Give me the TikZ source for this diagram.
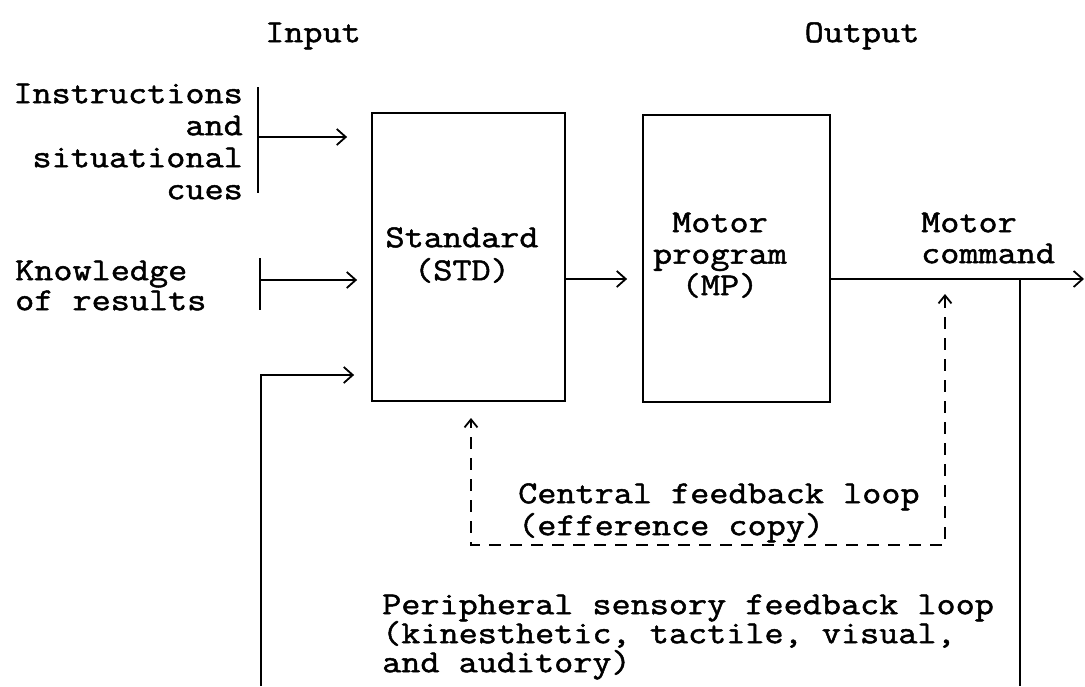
\documentclass[tikz,border=0pt]{standalone}
\usepackage{fontspec}
\newfontfamily\tw[FakeStretch=1.16, FakeBold=1.5]{Latin Modern Mono}
\usetikzlibrary{arrows.meta}
\newcommand\sr{\rule[-3pt]{0pt}{28pt}}
\newcommand\tf[1]{\tw\fontsize{32}{#1}\selectfont}
\begin{document}
\lineskiplimit=-100pt
\begin{tikzpicture}[x=1pt,y=-1pt,
  txt/.style={inner sep=0pt},
  box/.style={draw, line width=1.8pt, inner sep=0pt},
  ln/.style={line width=1.8pt},
  arr/.style={ln, -{Straight Barb[length=9pt,width=16pt,line width=1.8pt]}},
  darr/.style={line width=2pt, dash pattern=on 12pt off 9pt,
    {Straight Barb[length=8pt,width=13pt,line width=1.8pt]}-{Straight Barb[length=8pt,width=13pt,line width=1.8pt]}}
]
\useasboundingbox (0,0) rectangle (1085,686);
\fill[white] (0,0) rectangle (1085,686);

% boxes
\node[box, minimum width=193pt, minimum height=288pt] (std) at (468.5,257) {};
\node[box, minimum width=187pt, minimum height=287pt] (mp) at (736.5,258.5) {};

% texts
\node[txt, font=\tf{32}, anchor=north] (input) at (313,17) {\sr Input};
\node[txt, font=\tf{32}, anchor=north] (output) at (862,17) {\sr Output};
\node[txt, font=\tf{32}, anchor=north east, align=right] (instr) at (243,78)
  {\sr Instructions\\and\\situational\\cues};
\node[txt, font=\tf{30}, anchor=north west, align=left] (kr) at (15,255)
  {\sr Knowledge\\of results};
\node[txt, font=\tf{33}, anchor=north, align=center] (stdtext) at (462,222)
  {\sr Standard\\(STD)};
\node[txt, font=\tf{31.5}, anchor=north, align=center] (mptext) at (720,207)
  {\sr Motor\\program\\(MP)};
\node[txt, font=\tf{31}, anchor=north west, align=left] (cmd) at (921,207)
  {\sr Motor\\command};
\node[txt, font=\tf{32}, anchor=north west, align=left] (central) at (518,478)
  {\sr Central feedback loop\\(efference copy)};
\node[txt, font=\tf{29}, anchor=north west, align=left] (periph) at (382,589)
  {\sr Peripheral sensory feedback loop\\(kinesthetic, tactile, visual,\\and auditory)};

% coordinates
\coordinate (b1t) at (258,87);
\coordinate (b1b) at (258,193);
\coordinate (b1m) at (258,137);
\coordinate (b2t) at (260,258);
\coordinate (b2b) at (260,310);
\coordinate (b2m) at (260,280);
\coordinate (pb) at (261,686);
\coordinate (p1) at (261,375);
\coordinate (row) at (0,279);
\coordinate (outend) at (1084,279);
\coordinate (rv) at (1020,279);
\coordinate (rvb) at (1020,686);
\coordinate (d1) at (945,294);
\coordinate (dc1) at (945,545);
\coordinate (dc2) at (471,545);
\coordinate (d4) at (471,418);

% input connectors
\draw[ln] (b1t) -- (b1b);
\draw[arr] (b1m) -- ([xshift=-24pt]std.west |- b1m);
\draw[ln] (b2t) -- (b2b);
\draw[arr] (b2m) -- ([xshift=-14pt]std.west |- b2m);
\draw[arr] (pb) -- (p1) -- ([xshift=-17pt]std.west |- p1);

% main flow
\draw[arr] (std.east |- row) -- ([xshift=-15pt]mp.west |- row);
\draw[arr] (mp.east |- row) -- (outend);
\draw[ln] (rv) -- (rvb);

% central feedback loop
\draw[darr] (d1) -- (dc1) -- (dc2) -- (d4);
\end{tikzpicture}
\end{document}
